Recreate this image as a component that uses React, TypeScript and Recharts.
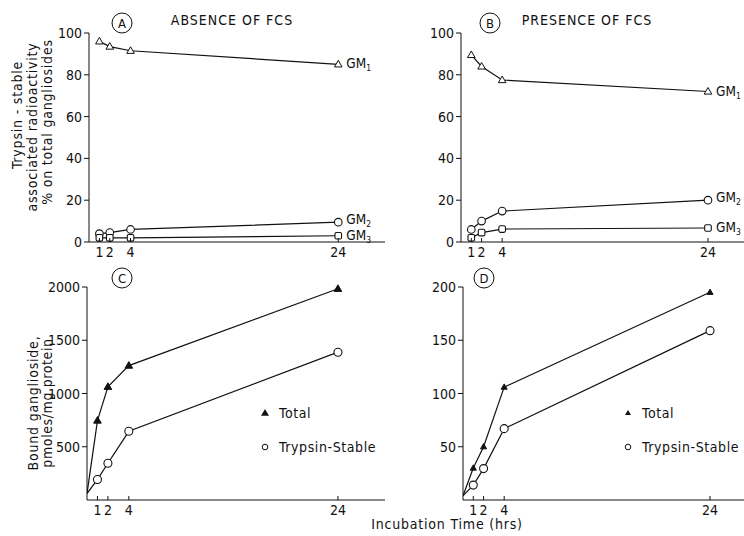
import { LineChart, Line, XAxis, YAxis } from "recharts";

const hours = [1, 2, 4, 24];
const boundHours = [0, 1, 2, 4, 24];
const hourTicks = [1, 2, 4, 24];
const pctTicks = [0, 20, 40, 60, 80, 100];
const absentTicks = [500, 1000, 1500, 2000];
const presentTicks = [50, 100, 150, 200];

// % of total gangliosides (trypsin-stable)
const gm1Absent = [96, 93.5, 91.5, 85];
const gm2Absent = [4, 4.5, 6, 9.5];
const gm3Absent = [2, 2, 2, 3];
const gm1Present = [89.5, 84, 77.5, 72];
const gm2Present = [6, 10, 14.8, 20];
const gm3Present = [2, 4.5, 6.2, 6.7];

// bound ganglioside, pmoles/mg protein
const totalAbsent = [60, 746, 1063, 1262, 1983];
const stableAbsent = [60, 193, 345, 645, 1388];
const totalPresent = [4, 30, 50, 106, 195];
const stablePresent = [4, 14, 29.5, 67, 159];

const FONT = "'DejaVu Sans Condensed', 'DejaVu Sans', sans-serif";
const NUM_FONT = "'Liberation Sans Narrow', 'DejaVu Sans Condensed', sans-serif";
const INK = "#111";

const pctRows = hours.map((h, i) => ({
  h,
  gm1a: gm1Absent[i], gm2a: gm2Absent[i], gm3a: gm3Absent[i],
  gm1p: gm1Present[i], gm2p: gm2Present[i], gm3p: gm3Present[i],
}));

const boundRows = boundHours.map((h, i) => ({
  h,
  ta: totalAbsent[i], sa: stableAbsent[i],
  tp: totalPresent[i], sp: stablePresent[i],
}));

// x ticks in the original point up into the plot, labels sit just below the axis
function HourTick(p: any) {
  const { x, y, payload } = p;
  const axisY = y - 4;
  return (
    <g>
      <line x1={x} x2={x} y1={axisY} y2={axisY - 4} stroke={INK} strokeWidth={1} />
      <text x={x} y={y} dy="0.75em" textAnchor="middle" fontSize={14} fill={INK} fontFamily={NUM_FONT}>
        {payload.value}
      </text>
    </g>
  );
}

function ValueTick(p: any) {
  const { x, y, payload } = p;
  return (
    <text x={x} y={y} dy="0.36em" textAnchor="end" fontSize={14} fill={INK} fontFamily={NUM_FONT}>
      {payload.value}
    </text>
  );
}

function tri(filled: boolean, s: number, skipFirst = false) {
  return (p: any) => {
    const { cx, cy, index } = p;
    if (cx == null || cy == null || (skipFirst && index === 0)) return <g key={`t${index}`} />;
    return (
      <path
        key={`t${index}`}
        d={`M${cx},${cy - s} L${cx + s * 0.95},${cy + s * 0.65} L${cx - s * 0.95},${cy + s * 0.65} Z`}
        fill={filled ? INK : "#fff"}
        stroke={INK}
        strokeWidth={1}
      />
    );
  };
}

function circ(r: number, skipFirst = false) {
  return (p: any) => {
    const { cx, cy, index } = p;
    if (cx == null || cy == null || (skipFirst && index === 0)) return <g key={`c${index}`} />;
    return <circle key={`c${index}`} cx={cx} cy={cy} r={r} fill="#fff" stroke={INK} strokeWidth={1.1} />;
  };
}

function sq(s: number) {
  return (p: any) => {
    const { cx, cy, index } = p;
    if (cx == null || cy == null) return <g key={`s${index}`} />;
    return <rect key={`s${index}`} x={cx - s} y={cy - s} width={s * 2} height={s * 2} rx={1.5} fill="#fff" stroke={INK} strokeWidth={1.1} />;
  };
}

function gmLabel(sub: string, lift: number) {
  return (p: any) => {
    const { x, y, index } = p;
    if (index !== hours.length - 1) return null;
    return (
      <text key={`l${index}`} x={x + 8} y={y + 4 - lift} fontSize={13.5} fill={INK} fontFamily={FONT}>
        GM
        <tspan dy={3} fontSize={8.5}>{sub}</tspan>
      </text>
    );
  };
}

function PctPanel(props: { keys: [string, string, string]; domainMax: number; width: number; right: number }) {
  const [k1, k2, k3] = props.keys;
  return (
    <LineChart width={props.width} height={270} data={pctRows} margin={{ top: 33, right: props.right, bottom: 8, left: 0 }}>
      <XAxis
        dataKey="h" type="number" domain={[0, props.domainMax]} ticks={hourTicks} interval={0}
        height={20} tick={HourTick} tickLine={false} tickSize={0} tickMargin={4} stroke={INK} allowDataOverflow
      />
      <YAxis
        type="number" domain={[0, 100]} ticks={pctTicks} width={89}
        tick={ValueTick} tickSize={5} stroke={INK}
      />
      <Line dataKey={k1} stroke={INK} strokeWidth={1.2} dot={tri(false, 4)} label={gmLabel("1", 0)} isAnimationActive={false} />
      <Line dataKey={k2} stroke={INK} strokeWidth={1.2} dot={circ(3.8)} label={gmLabel("2", 2)} isAnimationActive={false} />
      <Line dataKey={k3} stroke={INK} strokeWidth={1.2} dot={sq(3.3)} label={gmLabel("3", 0)} isAnimationActive={false} />
    </LineChart>
  );
}

function BoundPanel(props: {
  keys: [string, string]; yMax: number; ticks: number[]; domainMax: number;
  width: number; right: number; yWidth: number; tSize: number;
}) {
  const [kt, ks] = props.keys;
  return (
    <LineChart width={props.width} height={276} data={boundRows} margin={{ top: 27, right: props.right, bottom: 16, left: 0 }}>
      <XAxis
        dataKey="h" type="number" domain={[0, props.domainMax]} ticks={hourTicks} interval={0}
        height={20} tick={HourTick} tickLine={false} tickSize={0} tickMargin={4} stroke={INK} allowDataOverflow
      />
      <YAxis
        type="number" domain={[0, props.yMax]} ticks={props.ticks} width={props.yWidth}
        tick={ValueTick} tickSize={5} stroke={INK}
      />
      <Line dataKey={kt} stroke={INK} strokeWidth={1.2} dot={tri(true, props.tSize, true)} isAnimationActive={false} />
      <Line dataKey={ks} stroke={INK} strokeWidth={1.2} dot={circ(4, true)} isAnimationActive={false} />
    </LineChart>
  );
}

function Circled(props: { x: number; y: number; t: string }) {
  return (
    <g>
      <circle cx={props.x} cy={props.y} r={10} fill="none" stroke={INK} strokeWidth={1} />
      <text x={props.x} y={props.y + 5} textAnchor="middle" fontSize={13} fill={INK} fontFamily={FONT}>{props.t}</text>
    </g>
  );
}

function LegendBox(props: { x: number; small: boolean }) {
  const s = props.small ? 3 : 4;
  return (
    <g fontFamily={FONT} fontSize={14} fill={INK}>
      <path d={`M${props.x},${413 - s} L${props.x + s},${413 + s * 0.7} L${props.x - s},${413 + s * 0.7} Z`} fill={INK} />
      <text x={props.x + 14} y={418} letterSpacing={0.6}>Total</text>
      <circle cx={props.x} cy={447} r={2.8} fill="#fff" stroke={INK} strokeWidth={1} />
      <text x={props.x + 14} y={452} letterSpacing={0.6}>Trypsin-Stable</text>
    </g>
  );
}

export default function App() {
  return (
    <div style={{ position: "absolute", left: 0, top: 0, width: 744, height: 536, background: "#fff", overflow: "hidden", fontFamily: FONT }}>
      <div style={{ position: "absolute", left: 0, top: 0 }}>
        <PctPanel keys={["gm1a", "gm2a", "gm3a"]} domainMax={28.5} width={400} right={15} />
      </div>
      <div style={{ position: "absolute", left: 372, top: 0 }}>
        <PctPanel keys={["gm1p", "gm2p", "gm3p"]} domainMax={27.5} width={372} right={0} />
      </div>
      <div style={{ position: "absolute", left: 0, top: 260 }}>
        <BoundPanel keys={["ta", "sa"]} yMax={2000} ticks={absentTicks} domainMax={28.5} width={400} right={15} yWidth={87} tSize={4} />
      </div>
      <div style={{ position: "absolute", left: 372, top: 260 }}>
        <BoundPanel keys={["tp", "sp"]} yMax={200} ticks={presentTicks} domainMax={27.3} width={372} right={0} yWidth={91} tSize={3.2} />
      </div>
      <svg width={744} height={536} style={{ position: "absolute", left: 0, top: 0, pointerEvents: "none" }}>
        <g fontFamily={FONT} fill={INK}>
          <text x={232} y={25} textAnchor="middle" fontSize={14} letterSpacing={1}>ABSENCE OF FCS</text>
          <text x={587} y={25} textAnchor="middle" fontSize={14} letterSpacing={1}>PRESENCE OF FCS</text>
          <Circled x={122} y={23} t="A" />
          <Circled x={490} y={23} t="B" />
          <Circled x={122} y={278} t="C" />
          <Circled x={484} y={278} t="D" />
          <g fontSize={14}>
            <text transform="translate(22,115) rotate(-90)" textAnchor="middle" letterSpacing={0.8}>Trypsin  -  stable</text>
            <text transform="translate(37,127) rotate(-90)" textAnchor="middle" letterSpacing={0.8}>associated   radioactivity</text>
            <text transform="translate(52,122) rotate(-90)" textAnchor="middle" letterSpacing={0.8}>% on  total  gangliosides</text>
            <text transform="translate(38,403) rotate(-90)" textAnchor="middle" letterSpacing={0.8}>Bound   ganglioside,</text>
            <text transform="translate(52,403) rotate(-90)" textAnchor="middle" letterSpacing={0.6}>pmoles/mg protein</text>
            <text x={447} y={529} textAnchor="middle" letterSpacing={0.8}>Incubation  Time  (hrs)</text>
          </g>
          <LegendBox x={265} small={false} />
          <LegendBox x={628} small={true} />
        </g>
      </svg>
    </div>
  );
}
